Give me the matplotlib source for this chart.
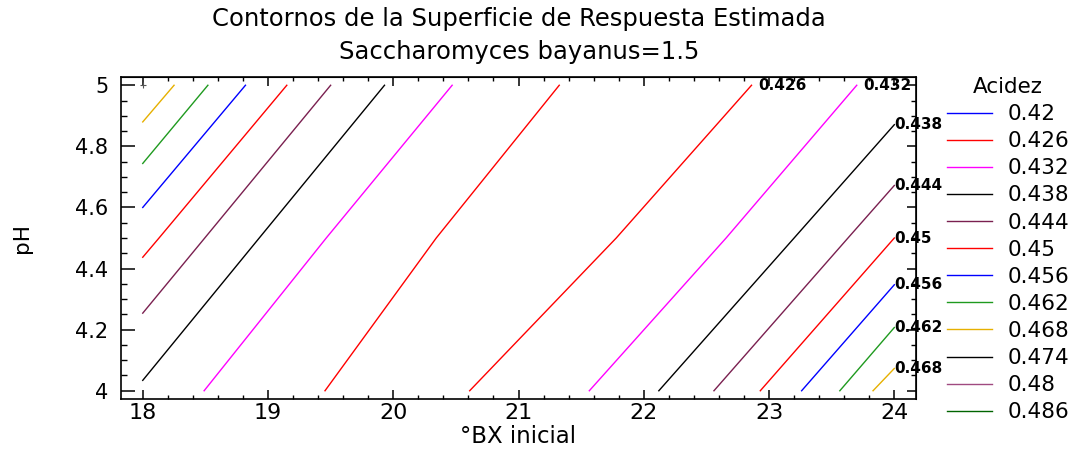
import matplotlib
matplotlib.use("Agg")
import matplotlib.pyplot as plt
from matplotlib.lines import Line2D
from matplotlib.ticker import MultipleLocator

# ---------------- data ----------------
legend_levels = [0.42, 0.426, 0.432, 0.438, 0.444, 0.45, 0.456, 0.462,
                 0.468, 0.474, 0.48, 0.486]

# contour lines on the left (upper-left) part of the domain
left_levels = [0.468, 0.462, 0.456, 0.45, 0.444, 0.438, 0.432, 0.426]
left_x = [[18.0, 18.25], [18.0, 18.52], [18.0, 18.82], [18.0, 18.13, 19.15],
          [18.0, 18.495, 19.50], [18.0, 18.93, 19.93],
          [18.49, 19.465, 20.47], [19.455, 20.343, 21.325]]
left_y = [[4.88, 5.0], [4.744, 5.0], [4.60, 5.0], [4.437, 4.5, 5.0],
          [4.254, 4.5, 5.0], [4.034, 4.5, 5.0],
          [4.0, 4.5, 5.0], [4.0, 4.5, 5.0]]

# contour lines on the right (lower-right) part of the domain
right_levels = [0.426, 0.432, 0.438, 0.444, 0.45, 0.456, 0.462, 0.468]
right_x = [[20.61, 21.78, 22.86], [21.565, 22.657, 23.70],
           [22.12, 23.20, 24.0], [22.56, 23.63, 24.0], [22.93, 24.0],
           [23.26, 24.0], [23.565, 24.0], [23.83, 24.0]]
right_y = [[4.0, 4.5, 5.0], [4.0, 4.5, 5.0], [4.0, 4.5, 4.871],
           [4.0, 4.5, 4.672], [4.0, 4.50], [4.0, 4.347], [4.0, 4.207],
           [4.0, 4.073]]

# labelled contours (labels at the end of the right-hand lines)
top_label_levels = [0.426, 0.432]
side_label_levels = [0.438, 0.444, 0.45, 0.456, 0.462, 0.468]

design_x = [18.0]
design_y = [5.0]

x_ticks = [18, 19, 20, 21, 22, 23, 24]
y_ticks = [4.0, 4.2, 4.4, 4.6, 4.8, 5.0]
y_tick_labels = ["4", "4.2", "4.4", "4.6", "4.8", "5"]

title_1 = "Contornos de la Superficie de Respuesta Estimada"
title_2 = "Saccharomyces bayanus=1.5"
x_label = "°BX inicial"
y_label = "pH"
legend_title = "Acidez"

# ---------------- style ----------------
level_colors = {
    0.42: "#0000ff", 0.426: "#ff0000", 0.432: "#ff00ff", 0.438: "#000000",
    0.444: "#7a2050", 0.45: "#ff0000", 0.456: "#0000ff", 0.462: "#1f9a1f",
    0.468: "#e6b000", 0.474: "#000000", 0.48: "#a04a80", 0.486: "#006400",
}

FONT = ["DejaVu Sans"]
plt.rcParams["font.family"] = FONT

W, H = 1077, 461
fig = plt.figure(figsize=(W / 100, H / 100), dpi=100)
ax_l, ax_r, ax_t, ax_b = 120.7, 916.0, 76.7, 399.3
ax = fig.add_axes([ax_l / W, 1 - ax_b / H, (ax_r - ax_l) / W, (ax_b - ax_t) / H])

for lv, xs, ys in zip(left_levels, left_x, left_y):
    ax.plot(xs, ys, color=level_colors[lv], lw=1.0)
for lv, xs, ys in zip(right_levels, right_x, right_y):
    ax.plot(xs, ys, color=level_colors[lv], lw=1.0)
    if lv in top_label_levels:
        ax.annotate(f"{lv:g}", xy=(xs[-1], ys[-1]), xytext=(5, 0),
                    textcoords="offset points", ha="left", va="center",
                    fontsize=11, fontweight="bold", annotation_clip=False)
    elif lv in side_label_levels:
        ax.annotate(f"{lv:g}", xy=(xs[-1], ys[-1]), xytext=(0, 0),
                    textcoords="offset points", ha="left", va="center",
                    fontsize=11, fontweight="bold", annotation_clip=False,
                    clip_on=False)

ax.plot(design_x, design_y, marker="+", ms=4, mew=0.8, color="#555555", ls="none")

ax.set_xlim(17.824, 24.173)
ax.set_ylim(3.972, 5.028)
ax.set_xticks(x_ticks)
ax.set_yticks(y_ticks)
ax.set_yticklabels(y_tick_labels)
ax.xaxis.set_minor_locator(MultipleLocator(0.2))
ax.yaxis.set_minor_locator(MultipleLocator(0.05))
for sp in ax.spines.values():
    sp.set_linewidth(1.2)

ax.tick_params(axis="x", which="major", direction="in", length=6.3, width=1.1,
               labelsize=16, pad=3)
ax.tick_params(axis="x", which="minor", direction="in", length=3.1, width=1.0)
ax.tick_params(axis="y", which="major", direction="in", length=10, width=1.1,
               labelsize=15, pad=9)
ax.tick_params(axis="y", which="minor", direction="in", length=4.3, width=1.0)

# ticks on top / right
secx = ax.secondary_xaxis("top")
secx.set_xticks(x_ticks)
secx.xaxis.set_minor_locator(MultipleLocator(0.2))
secx.tick_params(axis="x", which="major", direction="in", length=6.3, width=1.1,
                 labeltop=False)
secx.tick_params(axis="x", which="minor", direction="in", length=3.1, width=1.0)
secy = ax.secondary_yaxis("right")
secy.set_yticks(y_ticks)
secy.yaxis.set_minor_locator(MultipleLocator(0.05))
secy.tick_params(axis="y", which="major", direction="in", length=6.5, width=1.1,
                 labelright=False)
secy.tick_params(axis="y", which="minor", direction="in", length=3.6, width=1.0)

ax.set_xlabel(x_label, fontsize=16.5)
ax.xaxis.set_label_coords(0.5, -0.08)
ax.set_ylabel(y_label, fontsize=15.5)
ax.yaxis.set_label_coords(-0.1115, 0.5)

fig.text(519 / W, 1 - 19 / H, title_1, ha="center", va="center", fontsize=17.5)
fig.text(519 / W, 1 - 52 / H, title_2, ha="center", va="center", fontsize=17.5)

handles = [Line2D([], [], color=level_colors[lv], lw=1.0) for lv in legend_levels]
leg = ax.legend(handles, [f"{lv:g}" for lv in legend_levels], title=legend_title,
                loc="upper left", bbox_to_anchor=(947 / W, 1 - 77 / H),
                bbox_transform=fig.transFigure, frameon=False, fontsize=15.5,
                title_fontsize=15.5, handlelength=2.1, handletextpad=0.7,
                labelspacing=0.33, borderpad=0, borderaxespad=0)

fig.savefig("out.png", dpi=100)
